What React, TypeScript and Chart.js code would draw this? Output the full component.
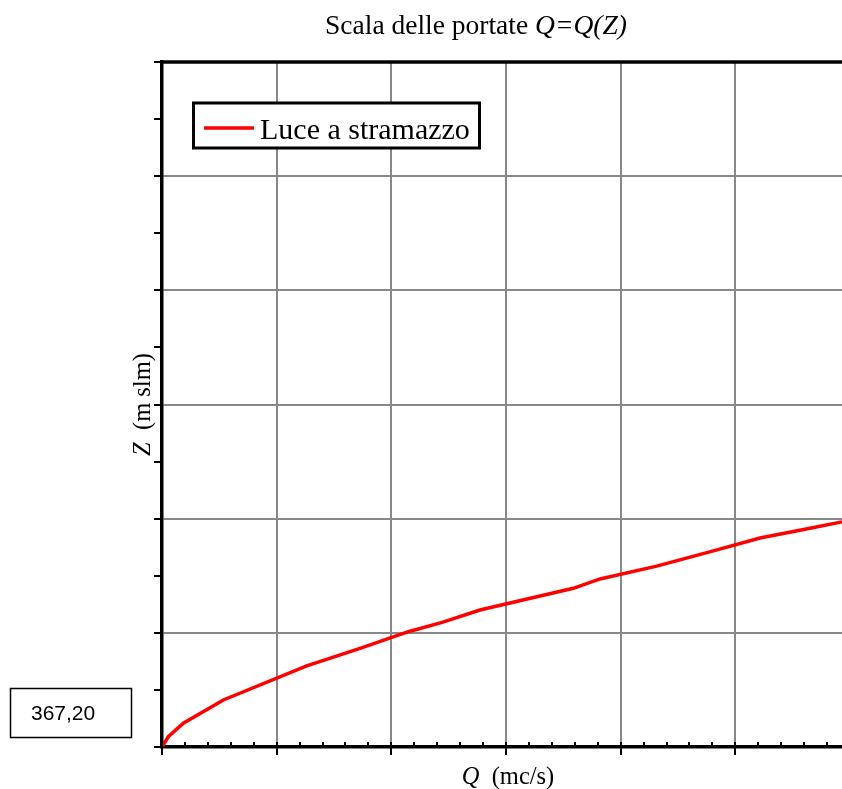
import { useEffect, useRef } from "react";
import { Chart, registerables } from "chart.js";

Chart.register(...registerables);

// ---- data ----
const SERIES_LABEL = "Luce a stramazzo";
const Q_VALUES = [0, 5.5, 18.6, 53.5, 126.2, 172.7, 214.8, 245, 277.3, 358.7, 382, 431.4, 480.8, 521.5, 560.7, 593, 600];
const Z_VALUES = [367.2, 367.245, 367.304, 367.406, 367.555, 367.632, 367.705, 367.747, 367.8, 367.895, 367.936, 367.992, 368.059, 368.115, 368.154, 368.186, 368.194];

const X_MIN = 0;
const X_MAX = 600;
const X_STEP = 100;
const X_MINOR_DIV = 5;
const Y_MIN = 367.2;
const Y_MAX = 370.2;
const Y_STEP = 0.5;
const Y_MINOR_DIV = 2;

const TITLE_PLAIN = "Scala delle portate ";
const TITLE_ITALIC = "Q=Q(Z)";
const X_TITLE_ITALIC = "Q";
const X_TITLE_PLAIN = "  (mc/s)";
const Y_TITLE_ITALIC = "Z";
const Y_TITLE_PLAIN = "  (m slm)";

const SERIF = '"Liberation Serif", "Times New Roman", serif';
const SANS = '"Liberation Sans", Arial, sans-serif';

function drawMixed(
  ctx: CanvasRenderingContext2D,
  parts: { text: string; italic: boolean }[],
  size: number,
  cx: number,
  baseline: number
) {
  const widths = parts.map((p) => {
    ctx.font = `${p.italic ? "italic " : ""}${size}px ${SERIF}`;
    return ctx.measureText(p.text).width;
  });
  const total = widths.reduce((a, b) => a + b, 0);
  let x = cx - total / 2;
  ctx.textAlign = "left";
  ctx.textBaseline = "alphabetic";
  parts.forEach((p, i) => {
    ctx.font = `${p.italic ? "italic " : ""}${size}px ${SERIF}`;
    ctx.fillText(p.text, x, baseline);
    x += widths[i];
  });
}

const decorPlugin = {
  id: "decor",
  afterDraw(chart: any) {
    const ctx: CanvasRenderingContext2D = chart.ctx;
    const area = chart.chartArea;
    const xs = chart.scales.x;
    const ys = chart.scales.y;
    ctx.save();
    ctx.fillStyle = "#000";
    ctx.strokeStyle = "#000";

    // top border
    ctx.lineWidth = 3.5;
    ctx.beginPath();
    ctx.moveTo(area.left - 1.75, area.top);
    ctx.lineTo(area.right, area.top);
    ctx.stroke();

    // x ticks
    ctx.lineWidth = 2;
    const xMinorStep = X_STEP / X_MINOR_DIV;
    for (let i = 0; i * xMinorStep <= X_MAX - X_MIN + 1e-9; i++) {
      const v = X_MIN + i * xMinorStep;
      const px = Math.round(xs.getPixelForValue(v));
      const major = i % X_MINOR_DIV === 0;
      ctx.beginPath();
      ctx.moveTo(px, area.bottom - 5);
      ctx.lineTo(px, area.bottom + (major ? 8 : 0));
      ctx.stroke();
    }
    // y ticks
    const yMinorStep = Y_STEP / Y_MINOR_DIV;
    for (let i = 0; i * yMinorStep <= Y_MAX - Y_MIN + 1e-9; i++) {
      const v = Y_MIN + i * yMinorStep;
      const py = Math.round(ys.getPixelForValue(v));
      ctx.beginPath();
      ctx.moveTo(area.left - 8, py);
      ctx.lineTo(area.left, py);
      ctx.stroke();
    }

    // title
    drawMixed(
      ctx,
      [
        { text: TITLE_PLAIN, italic: false },
        { text: TITLE_ITALIC, italic: true },
      ],
      27.5,
      476,
      34
    );

    // x title
    drawMixed(
      ctx,
      [
        { text: X_TITLE_ITALIC, italic: true },
        { text: X_TITLE_PLAIN, italic: false },
      ],
      24.5,
      508,
      784
    );

    // y title (rotated)
    ctx.save();
    ctx.translate(150, (area.top + area.bottom) / 2);
    ctx.rotate(-Math.PI / 2);
    drawMixed(
      ctx,
      [
        { text: Y_TITLE_ITALIC, italic: true },
        { text: Y_TITLE_PLAIN, italic: false },
      ],
      24.5,
      0,
      0
    );
    ctx.restore();

    // legend
    const lx = 193.5, ly = 103, lw = 286, lh = 45;
    ctx.fillStyle = "#fff";
    ctx.fillRect(lx, ly, lw, lh);
    ctx.lineWidth = 3;
    ctx.strokeStyle = "#000";
    ctx.strokeRect(lx, ly, lw, lh);
    ctx.strokeStyle = "#ff0000";
    ctx.lineWidth = 3.5;
    ctx.beginPath();
    ctx.moveTo(204, 128);
    ctx.lineTo(254, 128);
    ctx.stroke();
    ctx.fillStyle = "#000";
    ctx.font = `30px ${SERIF}`;
    ctx.textAlign = "left";
    ctx.textBaseline = "alphabetic";
    ctx.fillText(chart.data.datasets[0].label, 260, 139);

    // value box
    ctx.lineWidth = 1.5;
    ctx.strokeStyle = "#000";
    ctx.strokeRect(10.5, 688.5, 121, 49);
    ctx.font = `21px ${SANS}`;
    ctx.fillText(Y_MIN.toFixed(2).replace(".", ","), 31, 720);

    ctx.restore();
  },
};

export default function App() {
  const ref = useRef<HTMLCanvasElement | null>(null);

  useEffect(() => {
    if (!ref.current) return;
    const chart = new Chart(ref.current, {
      type: "line",
      data: {
        datasets: [
          {
            label: SERIES_LABEL,
            data: Q_VALUES.map((q, i) => ({ x: q, y: Z_VALUES[i] })),
            borderColor: "#ff0000",
            borderWidth: 3.5,
            pointRadius: 0,
            tension: 0,
            fill: false,
          },
        ],
      },
      options: {
        responsive: false,
        animation: false,
        devicePixelRatio: 1,
        layout: { padding: { left: 162, top: 62, right: 50, bottom: 42 } },
        plugins: {
          legend: { display: false },
          title: { display: false },
          tooltip: { enabled: false },
        },
        scales: {
          x: {
            type: "linear",
            min: X_MIN,
            max: X_MAX,
            ticks: { display: false, stepSize: X_STEP },
            grid: { color: "#888888", lineWidth: 2, drawTicks: false },
            border: { display: true, color: "#000", width: 3.5 },
            afterFit: (s: any) => {
              s.height = 0;
            },
          },
          y: {
            type: "linear",
            min: Y_MIN,
            max: Y_MAX,
            ticks: { display: false, stepSize: Y_STEP },
            grid: { color: "#888888", lineWidth: 2, drawTicks: false },
            border: { display: true, color: "#000", width: 3.5 },
            afterFit: (s: any) => {
              s.width = 0;
            },
          },
        },
      } as any,
      plugins: [decorPlugin],
    });
    return () => chart.destroy();
  }, []);

  return (
    <div
      style={{
        position: "fixed",
        left: 0,
        top: 0,
        width: 842,
        height: 789,
        overflow: "hidden",
        background: "#fff",
      }}
    >
      <canvas ref={ref} width={900} height={789} style={{ display: "block" }} />
    </div>
  );
}
